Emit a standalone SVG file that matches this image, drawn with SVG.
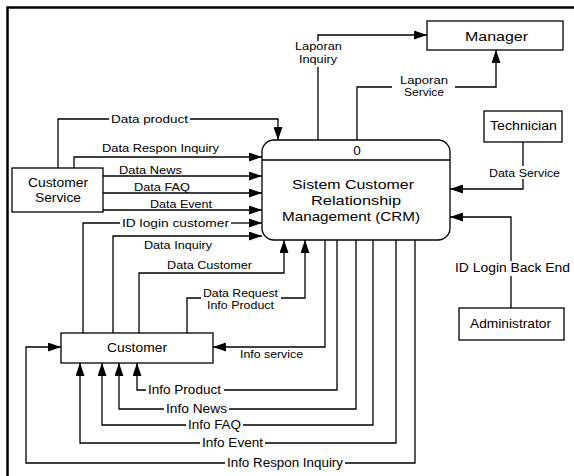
<svg xmlns="http://www.w3.org/2000/svg" width="574" height="476" viewBox="0 0 574 476">
<defs>
<marker id="arr" markerUnits="userSpaceOnUse" markerWidth="13" markerHeight="9" refX="13" refY="4.5" orient="auto"><path d="M0,0 L13,4.5 L0,9 z" fill="#000"/></marker>
<style>
.box{fill:#fff;stroke:#000;stroke-width:1.3}
.ln{fill:none;stroke:#000;stroke-width:1.3}
.a{marker-end:url(#arr)}
text{font-family:"Liberation Sans",Arial,sans-serif;fill:#000}
.lb{font-size:11px}
.sm{font-size:10.5px}
.nd{font-size:12px}
.pr{font-size:13.5px}
</style>
</defs>
<rect width="574" height="476" fill="#fff"/>
<path d="M7.5,476 V7.5 H574" fill="none" stroke="#000" stroke-width="2.5"/>

<g id="connectors">
  <g id="c-data-product">
    <path class="ln" d="M58,168 V119 H109"/><path class="ln a" d="M190,119 H278 V140"/>
    <text class="lb" x="111" y="123" textLength="77" lengthAdjust="spacingAndGlyphs">Data product</text>
  </g>
  <g id="c-data-respon">
    <path class="ln a" d="M74,168 V157 H262"/>
    <text class="lb" x="102" y="152" textLength="117" lengthAdjust="spacingAndGlyphs">Data Respon Inquiry</text>
  </g>
  <g id="c-data-news">
    <path class="ln a" d="M103,176 H262"/>
    <text class="lb" x="119" y="174" textLength="63" lengthAdjust="spacingAndGlyphs">Data News</text>
  </g>
  <g id="c-data-faq">
    <path class="ln a" d="M103,193 H262"/>
    <text class="lb" x="134" y="191" textLength="56" lengthAdjust="spacingAndGlyphs">Data FAQ</text>
  </g>
  <g id="c-data-event">
    <path class="ln a" d="M103,210 H262"/>
    <text class="lb" x="150" y="208" textLength="62" lengthAdjust="spacingAndGlyphs">Data Event</text>
  </g>
  <g id="c-id-login-customer">
    <path class="ln" d="M83,333 V223 H120"/><path class="ln a" d="M231,223 H262"/>
    <text class="lb" x="122" y="227" textLength="107" lengthAdjust="spacingAndGlyphs">ID login customer</text>
  </g>
  <g id="c-data-inquiry">
    <path class="ln a" d="M113,333 V236 H262"/>
    <text class="lb" x="144" y="249" textLength="68" lengthAdjust="spacingAndGlyphs">Data Inquiry</text>
  </g>
  <g id="c-data-customer">
    <path class="ln a" d="M139,333 V273 H284 V240"/>
    <text class="lb" x="167" y="269" textLength="85" lengthAdjust="spacingAndGlyphs">Data Customer</text>
  </g>
  <g id="c-data-request">
    <path class="ln" d="M187,333 V298 H201"/><path class="ln a" d="M281,298 H305 V240"/>
    <text class="lb" x="203" y="297" textLength="75" lengthAdjust="spacingAndGlyphs">Data Request</text>
    <text class="lb" x="207" y="309" textLength="67" lengthAdjust="spacingAndGlyphs">Info Product</text>
  </g>
  <g id="c-laporan-inquiry">
    <path class="ln" d="M318,140 V67"/><path class="ln a" d="M318,41 V35 H427"/>
    <text class="sm" x="295" y="50" textLength="47" lengthAdjust="spacingAndGlyphs">Laporan</text>
    <text class="sm" x="299" y="63" textLength="38" lengthAdjust="spacingAndGlyphs">Inquiry</text>
  </g>
  <g id="c-laporan-service">
    <path class="ln" d="M357,140 V87 H392"/><path class="ln a" d="M455,87 H496 V50"/>
    <text class="sm" x="400" y="84" textLength="48" lengthAdjust="spacingAndGlyphs">Laporan</text>
    <text class="sm" x="404" y="96" textLength="40" lengthAdjust="spacingAndGlyphs">Service</text>
  </g>
  <g id="c-data-service">
    <path class="ln" d="M523,142 V166"/><path class="ln a" d="M523,179 V189 H450"/>
    <text class="sm" x="489" y="177" textLength="71" lengthAdjust="spacingAndGlyphs">Data Service</text>
  </g>
  <g id="c-id-login-backend">
    <path class="ln" d="M511,308 V276"/><path class="ln a" d="M511,261 V217 H450"/>
    <text class="nd" x="455" y="272" textLength="115" lengthAdjust="spacingAndGlyphs">ID Login Back End</text>
  </g>
  <g id="c-info-service">
    <path class="ln a" d="M325,240 V347 H213"/>
    <text class="sm" x="240" y="358" textLength="63" lengthAdjust="spacingAndGlyphs">Info service</text>
  </g>
  <g id="c-info-product">
    <path class="ln" d="M337,240 V390 H224"/><path class="ln a" d="M146,390 H137 V363"/>
    <text class="nd" x="148" y="394" textLength="73" lengthAdjust="spacingAndGlyphs">Info Product</text>
  </g>
  <g id="c-info-news">
    <path class="ln" d="M356,240 V409 H229"/><path class="ln a" d="M164,409 H119 V363"/>
    <text class="nd" x="166" y="413" textLength="61" lengthAdjust="spacingAndGlyphs">Info News</text>
  </g>
  <g id="c-info-faq">
    <path class="ln" d="M373,240 V425 H243"/><path class="ln a" d="M186,425 H102 V363"/>
    <text class="nd" x="188" y="429" textLength="53" lengthAdjust="spacingAndGlyphs">Info FAQ</text>
  </g>
  <g id="c-info-event">
    <path class="ln" d="M396,240 V443 H265"/><path class="ln a" d="M200,443 H80 V363"/>
    <text class="nd" x="202" y="447" textLength="61" lengthAdjust="spacingAndGlyphs">Info Event</text>
  </g>
  <g id="c-info-respon">
    <path class="ln" d="M415,240 V463 H345"/><path class="ln a" d="M225,463 H26 V347 H61"/>
    <text class="nd" x="227" y="467" textLength="116" lengthAdjust="spacingAndGlyphs">Info Respon Inquiry</text>
  </g>
</g>

<g id="process-crm">
  <rect class="box" x="262" y="140" width="188" height="100" rx="12"/>
  <line class="ln" x1="262" y1="160" x2="450" y2="160"/>
  <text class="pr" x="357" y="155" text-anchor="middle">0</text>
  <text class="pr" x="292" y="189" textLength="122" lengthAdjust="spacingAndGlyphs">Sistem Customer</text>
  <text class="pr" x="311" y="205" textLength="90" lengthAdjust="spacingAndGlyphs">Relationship</text>
  <text class="pr" x="282" y="221" textLength="138" lengthAdjust="spacingAndGlyphs">Management (CRM)</text>
</g>
<g id="customer-service">
  <rect class="box" x="12" y="168" width="91" height="44"/>
  <text class="nd" x="28" y="187" textLength="60" lengthAdjust="spacingAndGlyphs">Customer</text>
  <text class="nd" x="35" y="202" textLength="46" lengthAdjust="spacingAndGlyphs">Service</text>
</g>
<g id="customer">
  <rect class="box" x="61" y="333" width="152" height="30"/>
  <text class="nd" x="107" y="352" textLength="60" lengthAdjust="spacingAndGlyphs">Customer</text>
</g>
<g id="manager">
  <rect class="box" x="427" y="21" width="136" height="29"/>
  <text x="465" y="41" font-size="13.5" textLength="63" lengthAdjust="spacingAndGlyphs">Manager</text>
</g>
<g id="technician">
  <rect class="box" x="484" y="111" width="78" height="31"/>
  <text class="nd" x="490" y="130" textLength="67" lengthAdjust="spacingAndGlyphs">Technician</text>
</g>
<g id="administrator">
  <rect class="box" x="459" y="308" width="105" height="32"/>
  <text class="nd" x="470" y="328" textLength="81" lengthAdjust="spacingAndGlyphs">Administrator</text>
</g>
</svg>
